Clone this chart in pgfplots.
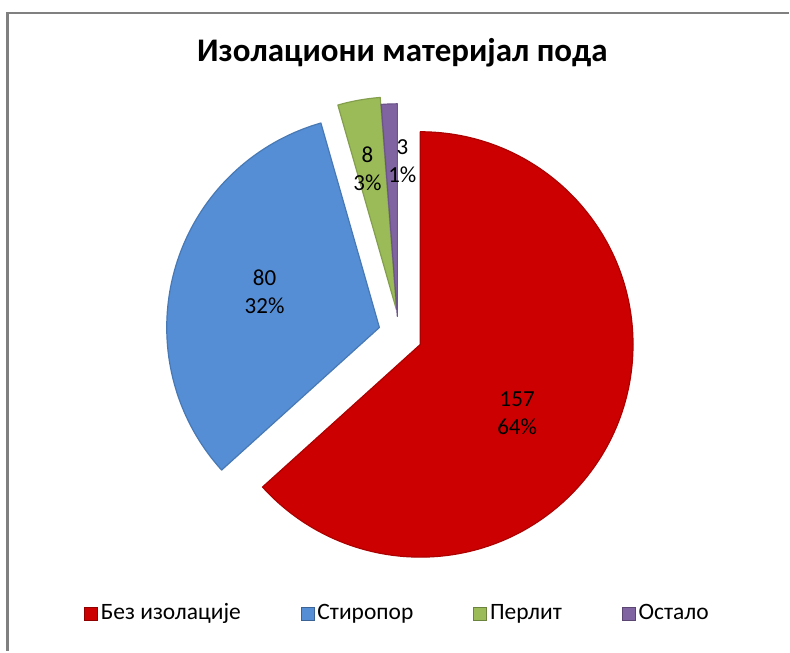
\documentclass[border=0pt]{standalone}
\usepackage{pgfplots}
\pgfplotsset{compat=1.18}
\usepackage{fontspec}
\setmainfont{Carlito}

\definecolor{pieRed}{RGB}{204,0,0}
\definecolor{pieBlue}{RGB}{85,142,213}
\definecolor{pieGreen}{RGB}{155,187,89}
\definecolor{pieViolet}{RGB}{128,100,162}
\definecolor{frameGray}{RGB}{128,128,128}

% sum of the four values
\def\total{248}
% #1 values before this slice, #2 value, #3 colour, #4/#5 shift of the slice
\newcommand\pieslice[5]{%
  \pgfmathsetmacro\sa{90-#1*(360/\total)}%
  \pgfmathsetmacro\ea{90-(#1+#2)*(360/\total)}%
  \pgfmathsetmacro\px{421+#4}%
  \pgfmathsetmacro\py{307+#5}%
  \edef\temp{\noexpand\fill[#3, draw=#3!85!black, line width=1.2pt, line join=round]
    (axis cs:\px,\py) -- ++(\sa:213pt) arc[start angle=\sa, end angle=\ea, radius=213pt] -- cycle;}%
  \temp
}

\begin{document}
\begin{tikzpicture}
\begin{axis}[
  x=1pt, y=1pt, scale only axis,
  xmin=0, xmax=790, ymin=0, ymax=652,
  hide axis, clip=false,
  legend columns=4,
  legend style={at={(axis cs:84,37)}, anchor=west, draw=none, fill=none,
    inner xsep=0pt, font=\fontsize{23.5}{27}\selectfont,
    nodes={inner xsep=2pt, text height=16pt, text depth=6pt},
    /tikz/every odd column/.append style={column sep=1pt},
    /tikz/every even column/.append style={column sep=58pt}},
  legend image code/.code={\draw[#1, line width=0.8pt] (0pt,-6.5pt) rectangle (13pt,6.5pt);},
]
  \fill[white] (axis cs:0,0) rectangle (axis cs:790,652);
  \draw[frameGray, line width=2.5pt] (axis cs:7.5,0) -- (axis cs:7.5,639) -- (axis cs:790,639);

  \pieslice{0}{157}{pieRed}{0}{0}
  \pieslice{157}{80}{pieBlue}{-41}{17}
  \pieslice{237}{8}{pieGreen}{-24}{35}
  \pieslice{245}{3}{pieViolet}{-23}{28}

  \node[font=\fontsize{33}{38}\selectfont\bfseries] at (axis cs:403,599) {Изолациони материјал пода};

  \node[align=center, font=\fontsize{23}{28}\selectfont] at (axis cs:518,238) {157\\64\%};
  \node[align=center, font=\fontsize{23}{28}\selectfont] at (axis cs:265,360) {80\\32\%};
  \node[align=center, font=\fontsize{23}{28}\selectfont] at (axis cs:368,483) {8\\3\%};
  \node[align=center, font=\fontsize{23}{28}\selectfont] at (axis cs:403,491) {3\\1\%};

  \addlegendimage{fill=pieRed, draw=pieRed!70!black}
  \addlegendentry{Без изолације}
  \addlegendimage{fill=pieBlue, draw=pieBlue!70!black}
  \addlegendentry{Стиропор}
  \addlegendimage{fill=pieGreen, draw=pieGreen!70!black}
  \addlegendentry{Перлит}
  \addlegendimage{fill=pieViolet, draw=pieViolet!70!black}
  \addlegendentry{Остало}
\end{axis}
\end{tikzpicture}
\end{document}
